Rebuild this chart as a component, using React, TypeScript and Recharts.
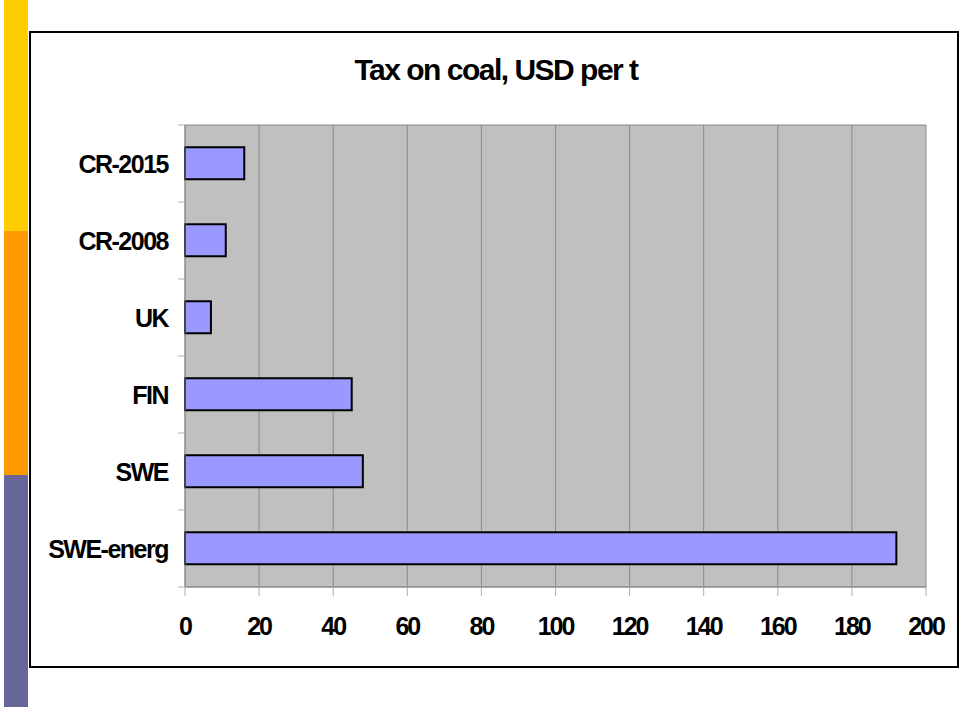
import { BarChart, Bar, XAxis, YAxis, CartesianGrid } from "recharts";

const countries = ["CR-2015", "CR-2008", "UK", "FIN", "SWE", "SWE-energ"];
const taxUsdPerTon = [16, 11, 7, 45, 48, 192];
const xTicks = [0, 20, 40, 60, 80, 100, 120, 140, 160, 180, 200];

const data = countries.map((name, i) => ({ name, tax: taxUsdPerTon[i] }));

const FONT = "'Liberation Sans', Arial, sans-serif";
const PLOT_LEFT = 185;
const PLOT_TOP = 125;
const PLOT_BOTTOM = 587;
const BAND = (PLOT_BOTTOM - PLOT_TOP) / countries.length;

const labelStyle = {
  fontFamily: FONT,
  fontWeight: "bold" as const,
  fontSize: 25,
  fill: "#000",
};

function CategoryTick(props: any) {
  const { y, payload, index, visibleTicksCount } = props;
  const top = y - BAND / 2;
  const bottom = y + BAND / 2;
  return (
    <g>
      <line x1={PLOT_LEFT - 7} x2={PLOT_LEFT} y1={top} y2={top} stroke="#b0b0b0" />
      {index === visibleTicksCount - 1 && (
        <line x1={PLOT_LEFT - 7} x2={PLOT_LEFT} y1={bottom} y2={bottom} stroke="#b0b0b0" />
      )}
      <text x={PLOT_LEFT - 17} y={y} dy="0.36em" textAnchor="end" letterSpacing={-1.5} {...labelStyle}>
        {payload.value}
      </text>
    </g>
  );
}

function ValueTick(props: any) {
  const { x, payload } = props;
  return (
    <g>
      <line x1={x} x2={x} y1={PLOT_BOTTOM} y2={PLOT_BOTTOM + 9} stroke="#b0b0b0" />
      <text x={x} y={PLOT_BOTTOM + 48} textAnchor="middle" letterSpacing={-2} {...labelStyle}>
        {payload.value}
      </text>
    </g>
  );
}

export default function App() {
  return (
    <div
      style={{
        position: "absolute",
        left: 0,
        top: 0,
        width: 960,
        height: 707,
        background: "#fff",
        overflow: "hidden",
      }}
    >
      {/* coloured strip on the left */}
      <div style={{ position: "absolute", left: 4, top: 0, width: 24, height: 231, background: "#FFCC00" }} />
      <div style={{ position: "absolute", left: 4, top: 231, width: 24, height: 244, background: "#FF9900" }} />
      <div style={{ position: "absolute", left: 4, top: 475, width: 24, height: 232, background: "#666699" }} />

      {/* chart frame */}
      <div
        style={{
          position: "absolute",
          left: 29,
          top: 31,
          width: 926,
          height: 633,
          border: "2px solid #000",
        }}
      />

      <div
        style={{
          position: "absolute",
          left: 0,
          top: 52,
          width: 992,
          textAlign: "center",
          fontFamily: FONT,
          fontWeight: "bold",
          fontSize: 30,
          letterSpacing: -1.5,
          lineHeight: "36px",
          color: "#000",
        }}
      >
        Tax on coal, USD per t
      </div>

      <div style={{ position: "absolute", left: 0, top: 0 }}>
        <BarChart
          width={960}
          height={707}
          data={data}
          layout="vertical"
          margin={{ top: PLOT_TOP, right: 34, bottom: 0, left: 0 }}
          barCategoryGap="29%"
        >
          <CartesianGrid
            fill="#C0C0C0"
            stroke="#8a8a8a"
            horizontalCoordinatesGenerator={({ offset }: any) => [
              offset.top,
              offset.top + offset.height,
            ]}
          />
          <XAxis
            type="number"
            domain={[0, 200]}
            ticks={xTicks}
            interval={0}
            stroke="#8a8a8a"
            tickLine={false}
            height={707 - PLOT_BOTTOM}
            tick={<ValueTick />}
          />
          <YAxis
            type="category"
            dataKey="name"
            width={PLOT_LEFT}
            stroke="#8a8a8a"
            tickLine={false}
            interval={0}
            tick={<CategoryTick />}
          />
          <Bar
            dataKey="tax"
            fill="#9999FF"
            stroke="#000"
            strokeWidth={2}
            isAnimationActive={false}
          />
        </BarChart>
      </div>
    </div>
  );
}
